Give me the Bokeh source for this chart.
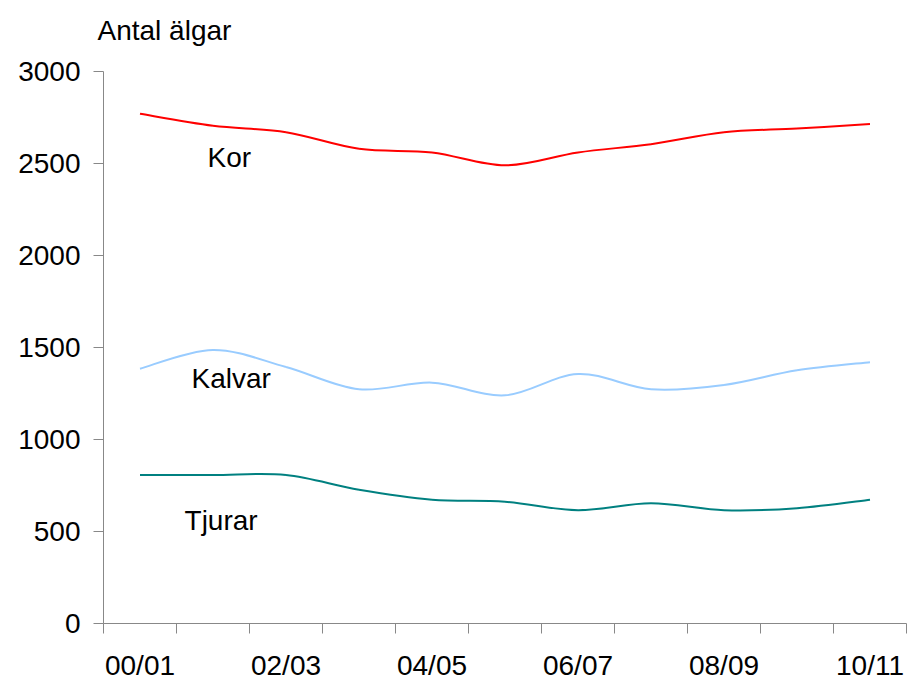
from bokeh.plotting import figure
from bokeh.models import Range1d, FixedTicker, Label, ColumnDataSource, Title
from bokeh.embed import file_html
from bokeh.resources import INLINE

# ---- data ----
seasons = ["00/01", "01/02", "02/03", "03/04", "04/05", "05/06",
           "06/07", "07/08", "08/09", "09/10", "10/11"]
kor = [2770, 2705, 2670, 2580, 2560, 2490, 2560, 2605, 2670, 2690, 2715]
kalvar = [1385, 1487, 1394, 1273, 1309, 1240, 1356, 1273, 1296, 1376, 1420]
tjurar = [807, 807, 807, 727, 673, 662, 616, 654, 616, 627, 673]
y_ticks = [0, 500, 1000, 1500, 2000, 2500, 3000]
series_names = ["Kor", "Kalvar", "Tjurar"]
series_colors = ["#FF0000", "#99CCFF", "#008080"]
y_title = "Antal älgar"

FONT = "Liberation Sans"
AXIS_GRAY = "#888888"

x_pos = list(range(len(seasons)))

p = figure(width=908, height=683,
           x_range=Range1d(-0.5, len(seasons) - 0.5),
           y_range=Range1d(0, 3000),
           output_backend="svg", toolbar_location=None,
           min_border_left=103, min_border_right=2,
           min_border_top=71, min_border_bottom=60)

p.outline_line_color = None
p.xgrid.grid_line_color = None
p.ygrid.grid_line_color = None
p.background_fill_color = "white"
p.border_fill_color = "white"

# small spacer panel next to the plot area, then the y-axis title above it
p.add_layout(Title(text=" ", text_font_size="1px", standoff=8), "above")
p.add_layout(Title(text=y_title, text_font=FONT, text_font_size="28px",
                   text_font_style="normal", text_color="black",
                   align="left", vertical_align="top", offset=-6,
                   standoff=26), "above")


def smooth_segments(xs, ys):
    """Bezier segments (Excel-style smoothed line) through the data points."""
    n = len(xs)
    out = dict(x0=[], y0=[], x1=[], y1=[], cx0=[], cy0=[], cx1=[], cy1=[])
    for i in range(n - 1):
        xm, ym = (xs[i - 1], ys[i - 1]) if i > 0 else (xs[i], ys[i])
        xp, yp = (xs[i + 2], ys[i + 2]) if i + 2 < n else (xs[i + 1], ys[i + 1])
        out["x0"].append(xs[i]); out["y0"].append(ys[i])
        out["x1"].append(xs[i + 1]); out["y1"].append(ys[i + 1])
        out["cx0"].append(xs[i] + (xs[i + 1] - xm) / 6.0)
        out["cy0"].append(ys[i] + (ys[i + 1] - ym) / 6.0)
        out["cx1"].append(xs[i + 1] - (xp - xs[i]) / 6.0)
        out["cy1"].append(ys[i + 1] - (yp - ys[i]) / 6.0)
    return ColumnDataSource(out)


for vals, col in zip([kor, kalvar, tjurar], series_colors):
    src = smooth_segments(x_pos, vals)
    p.bezier(x0="x0", y0="y0", x1="x1", y1="y1", cx0="cx0", cy0="cy0",
             cx1="cx1", cy1="cy1", source=src, line_color=col, line_width=2)

# series labels
label_pos = [(0.925, 2530), (0.705, 1331), (0.61, 560)]
for name, (lx, ly) in zip(series_names, label_pos):
    p.add_layout(Label(x=lx, y=ly, text=name, text_font=FONT,
                       text_font_size="28px", text_color="black",
                       text_align="left", text_baseline="alphabetic"))

# x axis
xa = p.xaxis[0]
xa.ticker = FixedTicker(ticks=x_pos[::2],
                        minor_ticks=[i - 0.5 for i in range(len(seasons) + 1)])
xa.major_label_overrides = {i: seasons[i] for i in x_pos[::2]}
xa.major_tick_line_color = None
xa.major_tick_out = 0
xa.major_tick_in = 0
xa.minor_tick_out = 10
xa.minor_tick_in = 0
xa.minor_tick_line_color = AXIS_GRAY
xa.axis_line_color = AXIS_GRAY
xa.major_label_text_font = FONT
xa.major_label_text_font_size = "28px"
xa.major_label_text_color = "black"
xa.major_label_standoff = 16

# y axis
ya = p.yaxis[0]
ya.ticker = FixedTicker(ticks=y_ticks)
ya.major_tick_out = 10
ya.major_tick_in = 0
ya.minor_tick_line_color = None
ya.major_tick_line_color = AXIS_GRAY
ya.axis_line_color = AXIS_GRAY
ya.major_label_text_font = FONT
ya.major_label_text_font_size = "28px"
ya.major_label_text_color = "black"
ya.major_label_standoff = 13

open("out.html", "w").write(file_html(p, INLINE))
